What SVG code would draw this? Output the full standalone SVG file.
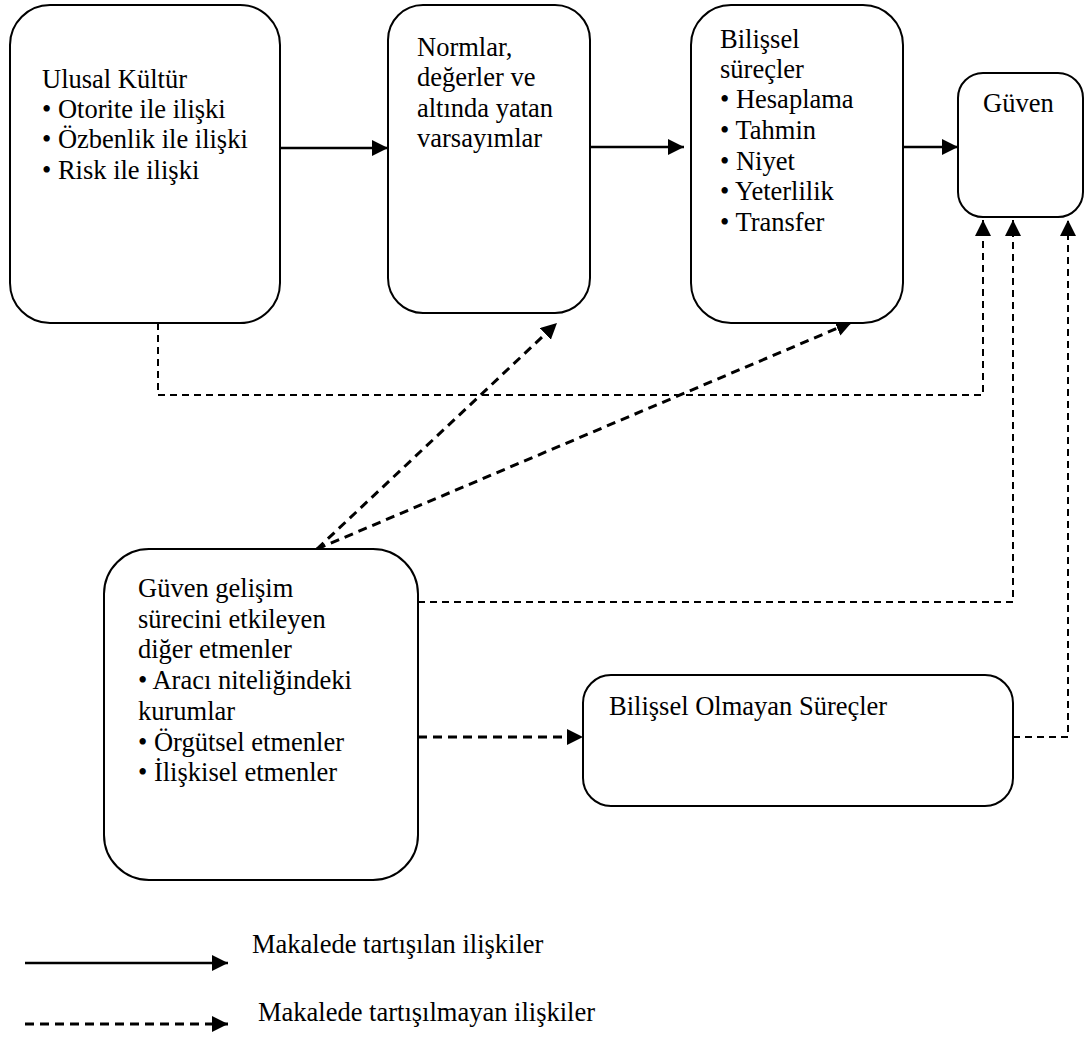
<svg xmlns="http://www.w3.org/2000/svg" width="1084" height="1037" viewBox="0 0 1084 1037">
<style>
  .box { fill: #fff; stroke: #000; stroke-width: 2; }
  text { font-family: 'Liberation Serif', Tinos, 'Times New Roman', serif; fill: #000; font-size: 26.5px; }
  .solid { fill: none; stroke: #000; stroke-width: 2.5; }
  .dash { fill: none; stroke: #000; stroke-width: 2; stroke-dasharray: 7 5; }
  .dashb { fill: none; stroke: #000; stroke-width: 3; stroke-dasharray: 9 6; }
</style>
<defs>
  <marker id="ah" markerUnits="userSpaceOnUse" markerWidth="17" markerHeight="17" refX="16" refY="8" orient="auto">
    <path d="M0,0 L16,8 L0,16 z" fill="#000"/>
  </marker>
</defs>
<rect width="1084" height="1037" fill="#fff"/>

<g id="connectors">
  <path class="solid" d="M280,148 H388" marker-end="url(#ah)"/>
  <path class="solid" d="M590,147 H684" marker-end="url(#ah)"/>
  <path class="solid" d="M903,147 H958" marker-end="url(#ah)"/>
  <path class="dash" d="M158,323 V395 H983 V220" marker-end="url(#ah)"/>
  <path class="dash" d="M418,602 H1013 V220" marker-end="url(#ah)"/>
  <path class="dash" d="M1013,737 H1068 V220" marker-end="url(#ah)"/>
  <path class="dashb" d="M418,737 H583" marker-end="url(#ah)"/>
  <path class="dashb" d="M317,549 L557,323" marker-end="url(#ah)"/>
  <path class="dashb" d="M317,549 L852,322" marker-end="url(#ah)"/>
</g>

<g id="ulusal-kultur">
  <rect class="box" x="10" y="5" width="270" height="318" rx="40"/>
  <text x="42" y="88">Ulusal Kültür</text>
  <text x="42" y="118">• Otorite ile ilişki</text>
  <text x="42" y="148">• Özbenlik ile ilişki</text>
  <text x="42" y="179">• Risk ile ilişki</text>
</g>

<g id="normlar">
  <rect class="box" x="388" y="5" width="202" height="308" rx="35"/>
  <text x="417" y="56">Normlar,</text>
  <text x="417" y="86">değerler ve</text>
  <text x="417" y="117">altında yatan</text>
  <text x="417" y="147">varsayımlar</text>
</g>

<g id="bilissel">
  <rect class="box" x="691" y="5" width="212" height="318" rx="40"/>
  <text x="720" y="48">Bilişsel</text>
  <text x="720" y="78">süreçler</text>
  <text x="720" y="108">• Hesaplama</text>
  <text x="720" y="139">• Tahmin</text>
  <text x="720" y="170">• Niyet</text>
  <text x="720" y="200">• Yeterlilik</text>
  <text x="720" y="231">• Transfer</text>
</g>

<g id="guven">
  <rect class="box" x="958" y="73" width="125" height="144" rx="25"/>
  <text x="983" y="112">Güven</text>
</g>

<g id="diger-etmenler">
  <rect class="box" x="104" y="549" width="314" height="331" rx="45"/>
  <text x="138" y="597">Güven gelişim</text>
  <text x="138" y="628">sürecini etkileyen</text>
  <text x="138" y="658">diğer etmenler</text>
  <text x="138" y="689">• Aracı niteliğindeki</text>
  <text x="138" y="720">kurumlar</text>
  <text x="138" y="751">• Örgütsel etmenler</text>
  <text x="138" y="781">• İlişkisel etmenler</text>
</g>

<g id="bilissel-olmayan">
  <rect class="box" x="583" y="675" width="430" height="131" rx="28"/>
  <text x="609" y="715">Bilişsel Olmayan Süreçler</text>
</g>

<g id="legend">
  <path class="solid" d="M25,963 H228" marker-end="url(#ah)"/>
  <path class="dashb" d="M25,1024 H228" marker-end="url(#ah)"/>
  <text x="252" y="953">Makalede tartışılan ilişkiler</text>
  <text x="258" y="1021">Makalede tartışılmayan ilişkiler</text>
</g>
</svg>
